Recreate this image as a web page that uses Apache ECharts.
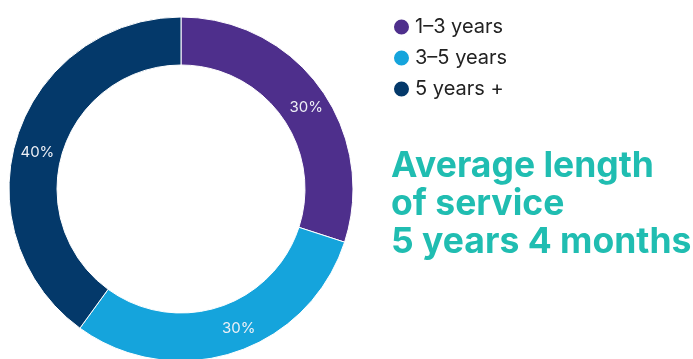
<!DOCTYPE html>
<html>
<head>
<meta charset="utf-8">
<script src="https://cdn.jsdelivr.net/npm/echarts@6/dist/echarts.min.js"></script>
<style>
  html, body { margin: 0; padding: 0; background: #fff; }
  #main { width: 693px; height: 359px; }
</style>
</head>
<body>
<div id="main"></div>
<script>
var categories = ['1–3 years', '3–5 years', '5 years +'];
var shares = [30, 30, 40];
var colors = ['#4e2f8c', '#15a4dc', '#04396a'];
var headline = 'Average length\nof service\n5 years 4 months';

var myChart = echarts.init(document.getElementById('main'));

// labels in the original sit a little off the slice middles
var labelNudge = [[3, 7], [11, -4], [0, 10]];

var pieData = categories.map(function (name, i) {
    return {
        name: name,
        value: shares[i],
        itemStyle: { color: colors[i] },
        label: { offset: labelNudge[i] }
    };
});

myChart.setOption({
    animation: false,
    title: {
        text: headline,
        left: 386,
        top: 142,
        textStyle: {
            fontFamily: 'Inter',
            fontSize: 35.5,
            fontWeight: 'bold',
            lineHeight: 38,
            color: '#20bdb1'
        }
    },
    legend: {
        orient: 'vertical',
        left: 387,
        top: 12,
        icon: 'circle',
        itemWidth: 17,
        itemHeight: 17,
        itemGap: 11,
        data: categories,
        textStyle: {
            fontFamily: 'Inter',
            fontSize: 20,
            color: '#222'
        }
    },
    series: [
        {
            name: 'Length of service',
            type: 'pie',
            center: [181, 189],
            radius: [124, 172],
            startAngle: 90,
            clockwise: true,
            data: pieData,
            itemStyle: {
                borderColor: '#fff',
                borderWidth: 1
            },
            label: {
                show: true,
                position: 'inside',
                formatter: '{c}%',
                color: '#eef0f6',
                fontFamily: 'Inter',
                fontSize: 15
            },
            labelLine: { show: false },
            emphasis: { disabled: true }
        }
    ]
});
</script>
</body>
</html>
